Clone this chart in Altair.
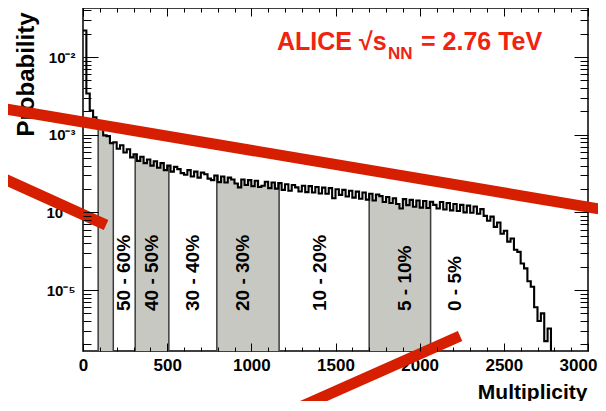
import altair as alt
import pandas as pd

FONT = "Liberation Sans"

# ---- data -------------------------------------------------------------
bin_width = 20
bin_start = list(range(0, 2800, bin_width))
# probability per bin, in units of 1e-4
prob_e4 = [
    220, 34, 20.5, 16.8, 13.2, 11.9, 9.8, 9.6, 7.8, 8.0,
    6.6, 7.3, 5.9, 6.5, 5.1, 5.6, 4.6, 5.2, 4.3, 4.8,
    4.0, 4.55, 3.75, 4.3, 3.5, 4.0, 3.35, 3.85, 3.6, 3.2,
    3.05, 3.5, 2.9, 3.35, 2.8, 3.25, 3.1, 2.72, 2.6, 2.98,
    2.45, 2.9, 2.42, 2.8, 2.65, 2.35, 2.1, 2.65, 2.25, 2.6,
    2.18, 2.55, 2.12, 2.2, 2.48, 2.05, 2.42, 2.02, 2.38, 1.95,
    2.3, 1.9, 2.25, 2.1, 1.86, 2.2, 1.82, 2.18, 1.8, 2.12,
    1.75, 2.08, 1.74, 2.05, 1.52, 1.98, 1.68, 1.95, 1.6, 1.9,
    1.55, 1.85, 1.5, 1.8, 1.46, 1.74, 1.42, 1.7, 1.62, 1.36,
    1.58, 1.32, 1.52, 1.28, 1.12, 1.48, 1.24, 1.45, 1.18, 1.42,
    1.15, 1.4, 1.14, 1.37, 1.25, 1.12, 1.36, 1.09, 1.32, 1.06,
    1.28, 1.04, 1.25, 1.0, 1.22, 0.99, 1.19, 0.96, 1.1, 0.9,
    0.78, 0.88, 0.65, 0.74, 0.53, 0.58, 0.42, 0.46, 0.33, 0.31,
    0.22, 0.19, 0.13, 0.11, 0.06, 0.04, 0.05, 0.022, 0.032, 0.012,
]
band_edges = [90, 180, 310, 510, 795, 1165, 1700, 2065]
gray_bands = [(90, 180), (310, 510), (795, 1165), (1700, 2065)]
band_labels = ["50 - 60%", "40 - 50%", "30 - 40%", "20 - 30%", "10 - 20%", "5 - 10%", "0 - 5%"]
band_label_x = [245, 410, 655, 950, 1410, 1910, 2210]

# red annotation strokes (multiplicity, probability) endpoints
red_m1 = [-493, -493, 2240]
red_p1 = [2.21e-3, 2.85e-4, 2.56e-6]
red_m2 = [3107, 137, 1170]
red_p2 = [1.07e-4, 6.87e-5, 2.39e-7]

x_major = [0, 500, 1000, 1500, 2000, 2500, 3000]
y_major = [1e-5, 1e-4, 1e-3, 1e-2]

# ---- tables -------------------------------------------------------------
prob = [v * 1e-4 for v in prob_e4]
hist_df = pd.DataFrame({"m": bin_start + [2800], "p": prob + [prob[-1]]})


def val_at(x):
    return prob[min(int(x // bin_width), len(prob) - 1)]


rows = []
for i, (lo, hi) in enumerate(gray_bands):
    rows.append({"band": i, "m": lo, "p": val_at(lo)})
    for s, v in zip(bin_start, prob):
        if lo < s < hi:
            rows.append({"band": i, "m": s, "p": v})
    rows.append({"band": i, "m": hi, "p": val_at(hi - 1e-6)})
area_df = pd.DataFrame(rows)

edge_df = pd.DataFrame({"m": band_edges, "p": [val_at(e) for e in band_edges]})
label_df = pd.DataFrame({"x": band_label_x, "label": band_labels})
red_df = pd.DataFrame({"m1": red_m1, "p1": red_p1, "m2": red_m2, "p2": red_p2})

x_minor = [v for v in range(100, 3000, 100) if v % 500 != 0]
y_minor = [k * 10.0 ** e for e in range(-6, -1) for k in range(2, 10)]
y_minor = [v for v in y_minor if 1.64e-6 <= v <= 0.0428]

W, H = 505, 343
xscale = alt.Scale(domain=[0, 3000], nice=False, zero=False)
yscale = alt.Scale(type="log", domain=[1.64e-6, 0.0428], nice=False)


def X(field, axis=None):
    return alt.X(field, type="quantitative", scale=xscale, axis=axis)


def Y(field, axis=None):
    return alt.Y(field, type="quantitative", scale=yscale, axis=axis, stack=None)


# ---- layers -------------------------------------------------------------
area = alt.Chart(area_df).mark_area(
    interpolate="step-after", color="#c8c8c3", clip=True
).encode(x=X("m"), y=Y("p"), y2=alt.value("height"), detail="band:N")

rules = alt.Chart(edge_df).mark_rule(color="#3c3c3c", strokeWidth=1.5).encode(
    x=X("m"), y=Y("p"), y2=alt.value("height")
)

x_label_axis = alt.Axis(
    orient="bottom", values=x_major, format="d", labelFontSize=17, labelFontWeight="bold",
    labelFont=FONT, labelColor="black", tickSize=0, domain=False, grid=False,
    labelPadding=6, labelFlush=False, labelOverlap=False,
    labelOffset={"condition": {"test": "datum.value == 3000", "value": -10}, "value": 0},
    title="Multiplicity", titleFontSize=21, titleFontWeight="bold", titleFont=FONT,
    titleColor="black", titleX=504, titleY=47, titleAlign="right",
    titleBaseline="alphabetic", titleAnchor="end",
)
y_label_axis = alt.Axis(
    orient="left", values=y_major,
    labelExpr="datum.value < 5e-5 ? '10⁻⁵' : datum.value < 5e-4 ? '10⁻⁴' : datum.value < 5e-3 ? '10⁻³' : '10⁻²'",
    labelFontSize=15, labelFontWeight="bold", labelFont=FONT, labelColor="black",
    tickSize=0, domain=False, grid=False, labelPadding=8, labelFlush=False,
    title="Probability", titleFontSize=24, titleFontWeight="bold", titleFont=FONT,
    titleColor="black", titleX=-50, titleY=4, titleAngle=270, titleAlign="right",
    titleBaseline="alphabetic",
)

hist = alt.Chart(hist_df).mark_line(
    interpolate="step-after", color="black", strokeWidth=2.1, clip=True
).encode(x=X("m", x_label_axis), y=Y("p", y_label_axis))

labels = alt.Chart(label_df).mark_text(
    angle=270, align="left", baseline="middle", fontSize=19, fontWeight="bold",
    font=FONT, color="black"
).encode(x=X("x"), y=alt.value(303), text="label:N")


def tick_axis(orient, offset, values, size):
    return alt.Axis(
        orient=orient, offset=offset, values=values, tickSize=size, labels=False,
        domain=False, grid=False, ticks=True, tickColor="black", tickWidth=1,
        title=None, zindex=2,
    )


tick_df = pd.DataFrame({"m": [1000], "p": [1e-3]})
tb = alt.Chart(tick_df).mark_point(opacity=0)
t1 = tb.encode(x=X("m", tick_axis("top", -H, x_major, 8)), y=Y("p", tick_axis("right", -W, y_major, 15)))
t2 = tb.encode(x=X("m", tick_axis("top", -H, x_minor, 4)), y=Y("p", tick_axis("right", -W, y_minor, 8)))
t3 = tb.encode(x=X("m", tick_axis("bottom", -H, x_major, 8)), y=Y("p", tick_axis("left", -W, y_major, 14)))
t4 = tb.encode(x=X("m", tick_axis("bottom", -H, x_minor, 4)), y=Y("p", tick_axis("left", -W, y_minor, 8)))

red = alt.Chart(red_df).mark_rule(
    color="#d61e00", strokeWidth=11, clip=False, strokeCap="butt"
).encode(x=X("m1"), x2="m2:Q", y=Y("p1"), y2="p2:Q")

one = pd.DataFrame({"a": [0]})
RED_TXT = "#f0230f"
t_a = alt.Chart(one).mark_text(
    text="ALICE √s", align="left", baseline="alphabetic", fontSize=25,
    fontWeight="bold", font=FONT, color=RED_TXT
).encode(x=alt.value(194), y=alt.value(42))
t_b = alt.Chart(one).mark_text(
    text="NN", align="left", baseline="alphabetic", fontSize=17,
    fontWeight="bold", font=FONT, color=RED_TXT
).encode(x=alt.value(305), y=alt.value(51))
t_c = alt.Chart(one).mark_text(
    text="= 2.76 TeV", align="left", baseline="alphabetic", fontSize=25,
    fontWeight="bold", font=FONT, color=RED_TXT
).encode(x=alt.value(338), y=alt.value(42))

chart = (
    alt.layer(area, rules, hist, labels, t1, t2, t3, t4, red, t_a, t_b, t_c)
    .resolve_axis(x="independent", y="independent")
    .properties(
        width=W, height=H,
        padding={"left": 75, "top": 0, "right": 10, "bottom": 50},
        autosize=alt.AutoSizeParams(type="none"),
        background="white",
    )
    .configure_view(stroke="black", strokeWidth=1.5)
)

chart.save("out.html", embed_options={"renderer": "svg", "actions": False})
